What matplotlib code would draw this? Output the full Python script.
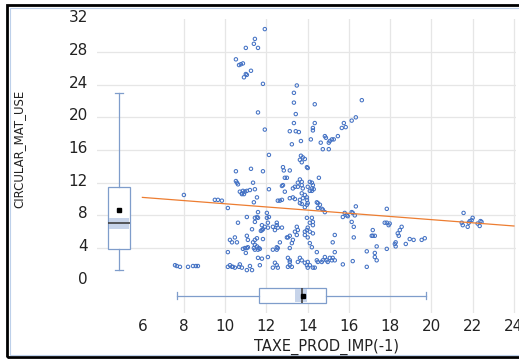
import matplotlib.pyplot as plt
from matplotlib.patches import Rectangle
from matplotlib.transforms import ScaledTranslation

obs = [
    (7.58, 1.9), (7.67, 1.8), (7.82, 1.7), (8.21, 1.7), (8.45, 1.8), (8.59, 1.8), (8.69, 1.8),
    (8.01, 10.5), (9.51, 9.9), (9.66, 9.9), (9.85, 9.8), (10.14, 8.9),
    # top cluster
    (11.93, 30.8), (11.45, 29.6), (11.40, 29.0), (11.01, 28.5), (11.60, 28.5), (10.53, 27.1),
    (10.77, 26.5), (10.87, 26.6), (10.68, 26.4), (11.26, 25.7), (11.06, 25.2), (10.92, 24.9),
    (11.01, 25.3), (11.84, 24.1), (11.60, 20.6), (11.93, 18.5),
    (13.48, 23.9), (13.34, 23.0), (13.34, 21.8), (14.35, 21.6), (13.43, 20.4), (13.34, 19.3),
    (13.14, 18.3), (13.43, 18.3), (13.58, 18.2), (13.24, 16.7), (13.68, 17.1), (14.16, 17.3),
    (14.26, 18.7), (14.26, 18.4), (14.35, 19.3), (14.84, 17.7), (14.89, 17.5), (14.64, 16.9),
    (15.08, 17.1), (15.18, 17.3), (15.27, 17.3), (15.03, 16.9), (15.47, 17.7), (14.74, 16.1),
    (15.03, 16.1), (15.76, 19.3), (15.85, 18.8), (15.66, 18.7), (16.63, 22.1), (16.34, 20.0),
    (16.14, 19.6),
    (12.13, 15.4), (13.68, 15.3), (13.77, 15.1), (13.63, 14.8), (13.72, 14.5), (13.87, 14.9),
    (13.97, 13.9), (14.01, 13.8), (12.81, 13.9), (12.85, 13.5), (13.14, 13.5), (14.55, 12.6),
    (11.84, 13.4), (10.53, 13.4), (11.26, 13.7), (12.90, 12.6), (13.00, 12.6),
    # 9 - 12.5
    (10.53, 12.2), (10.58, 12.0), (10.63, 11.8), (11.36, 12.0), (10.72, 10.9), (10.82, 10.7),
    (10.87, 11.0), (10.97, 10.9), (11.06, 11.0), (11.21, 11.1), (10.82, 10.6), (10.92, 10.6),
    (11.45, 11.2), (12.13, 11.2), (11.55, 10.2), (11.40, 9.6), (12.56, 9.8), (12.81, 11.7),
    (12.76, 11.6), (13.63, 12.4), (13.72, 12.1), (13.53, 12.0), (13.72, 11.7), (13.39, 11.5),
    (13.53, 11.5), (13.29, 11.3), (13.77, 11.3), (14.11, 12.1), (14.21, 12.0), (14.26, 11.7),
    (14.01, 11.5), (14.21, 11.3), (14.30, 11.2), (14.21, 11.0), (14.11, 11.0), (12.90, 10.9),
    (13.72, 10.7), (13.87, 10.5), (13.97, 10.2), (13.77, 10.1), (13.63, 9.9), (13.97, 9.9),
    (13.39, 10.0), (13.29, 10.2), (13.14, 10.1), (12.66, 9.8), (12.76, 9.9),
    (14.45, 9.6), (14.50, 9.5), (14.60, 9.3), (14.50, 8.9), (14.69, 8.8), (14.74, 8.7),
    (14.84, 8.4), (14.01, 9.5), (13.97, 9.3), (13.87, 9.0), (13.63, 9.5), (13.72, 9.4),
    # right part
    (15.71, 7.8), (16.34, 9.1), (16.14, 8.4), (16.19, 8.3), (16.29, 8.0), (15.80, 8.3),
    (15.90, 8.0), (15.95, 7.9), (17.84, 8.8), (16.14, 7.2), (16.24, 6.6), (17.74, 7.1),
    (17.84, 7.1), (17.98, 7.0), (17.93, 6.8), (18.56, 6.6), (18.47, 6.2), (18.37, 5.8),
    (18.42, 5.5), (17.16, 6.2), (17.11, 5.5), (17.16, 5.5), (17.26, 5.5), (16.24, 5.3),
    (18.27, 4.7), (18.23, 4.5), (18.27, 4.2), (18.76, 4.5), (18.95, 5.1), (19.14, 5.0),
    (19.53, 5.0), (19.68, 5.2), (17.35, 4.2), (16.87, 3.6), (17.84, 3.9), (17.26, 3.4),
    (17.26, 2.9), (17.35, 2.5), (16.19, 2.4), (15.71, 2.0), (16.87, 1.7),
    (21.56, 8.3), (21.47, 7.1), (21.52, 6.8), (21.76, 6.6), (21.86, 7.3), (21.95, 7.4),
    (21.81, 7.1), (22.00, 7.7), (22.24, 7.0), (22.34, 6.7), (22.38, 7.3), (22.43, 7.2),
    # lower left block
    (11.60, 8.4), (12.03, 8.3), (11.55, 7.8), (11.45, 7.7), (11.60, 7.7), (11.06, 7.8),
    (12.03, 7.7), (12.13, 7.8), (10.63, 7.1), (11.45, 7.2), (12.08, 7.1), (11.79, 6.8),
    (11.93, 6.6), (11.84, 6.3), (12.08, 6.5), (12.32, 6.6), (12.51, 6.8), (12.56, 6.5),
    (12.42, 6.2), (11.31, 6.3), (11.79, 6.2), (11.74, 6.1), (11.06, 5.5), (10.48, 5.3),
    (10.24, 5.0), (10.34, 4.7), (10.58, 4.7), (11.55, 5.2), (11.45, 5.0), (11.36, 4.7),
    (11.11, 5.0), (11.84, 5.1), (10.14, 3.5), (11.11, 4.1), (11.06, 4.0), (10.97, 4.0),
    (10.87, 3.9), (11.45, 4.4), (11.55, 4.2), (11.64, 4.0), (11.40, 4.0), (11.45, 3.8),
    (11.60, 3.8), (11.69, 3.9), (12.32, 3.8), (12.51, 4.1), (11.01, 3.4), (11.60, 2.8),
    (12.08, 2.9), (11.79, 2.7), (10.24, 1.9), (10.34, 1.7), (10.14, 1.7), (10.38, 1.7),
    (10.72, 2.0), (10.68, 1.7), (10.82, 1.6), (10.48, 1.6), (11.21, 1.8), (11.69, 1.9),
    (11.06, 1.3), (11.31, 1.3), (12.42, 2.2), (12.51, 1.9), (12.56, 1.6), (12.32, 1.6),
    # lower middle block
    (13.97, 7.7), (14.21, 7.7), (14.26, 7.2), (14.11, 7.1), (14.26, 6.8), (14.01, 6.5),
    (13.97, 6.2), (13.87, 6.0), (14.11, 6.0), (14.26, 5.8), (13.87, 5.6), (14.01, 5.3),
    (12.51, 7.1), (12.76, 6.5), (13.48, 6.6), (13.53, 6.2), (13.39, 6.0), (13.48, 5.6),
    (13.05, 5.3), (13.14, 5.5), (13.00, 5.3), (13.29, 5.0), (13.24, 4.6), (13.14, 4.0),
    (12.66, 4.7), (12.56, 4.0), (12.51, 3.8), (15.32, 5.6), (15.22, 4.7), (15.32, 3.5),
    (14.45, 3.5), (14.11, 4.6), (14.21, 4.1),
    (13.14, 2.3), (13.05, 2.8), (13.14, 2.5), (13.14, 1.9), (13.24, 1.7), (13.05, 1.7),
    (13.53, 2.3), (13.63, 2.8), (13.72, 2.5), (13.87, 2.2), (13.97, 1.9), (14.01, 2.3),
    (14.11, 1.9), (14.01, 1.6), (14.35, 1.6), (14.45, 2.5), (14.50, 2.3), (14.69, 2.3),
    (14.74, 2.5), (14.84, 2.9), (14.93, 2.5), (14.98, 2.3), (15.08, 2.8), (15.18, 2.5),
    (15.22, 2.8), (15.32, 2.5), (14.26, 1.6),
]
tax_prod_imp = [p[0] for p in obs]
circ_mat_use = [p[1] for p in obs]

# linear trend line end points
trend_x = [6, 24]
trend_y = [10.2, 6.7]

# marginal box plot summaries
box_y = dict(whislo=1.3, q1=3.9, med=7.1, q3=11.5, whishi=23.0, mean=8.7)
box_y_ci = (6.3, 7.7)
box_x = dict(whislo=7.67, q1=11.64, med=13.72, q3=14.89, whishi=19.73, mean=13.77)
box_x_ci = (13.39, 13.97)

x_ticks = [6, 8, 10, 12, 14, 16, 18, 20, 22, 24]
y_ticks = [0, 4, 8, 12, 16, 20, 24, 28, 32]

blue = "#4472C4"
box_col = "#7F9DCB"
shade = "#C7D4EA"
orange = "#ED7D31"

W, H = 519, 359
fig = plt.figure(figsize=(W / 100, H / 100), dpi=100)
ax = fig.add_axes([97 / W, (H - 313) / H, (516 - 97) / W, (313 - 19.3) / H])
ax.set_xlim(3.8, 24.1)
ax.set_ylim(-3.95, 32)
for s in ax.spines.values():
    s.set_visible(False)

for gx in x_ticks[1:]:
    ax.axvline(gx, color="#E6E6E6", lw=0.9, zorder=0)
for gy in y_ticks[1:-1]:
    ax.axhline(gy, color="#E6E6E6", lw=0.9, zorder=0)

ax.scatter(tax_prod_imp, circ_mat_use, s=6, facecolors="none",
           edgecolors=blue, linewidths=0.75, zorder=3)
ax.plot(trend_x, trend_y, color=orange, lw=0.9, zorder=4)

bp_kw = dict(showmeans=True, patch_artist=True, showfliers=False,
             boxprops=dict(facecolor="white", edgecolor=box_col, lw=0.9),
             whiskerprops=dict(color=box_col, lw=0.9),
             capprops=dict(color=box_col, lw=0.9),
             medianprops=dict(color="#404040", lw=1.2, zorder=3),
             meanprops=dict(marker="s", markersize=2.2, markerfacecolor="black",
                            markeredgecolor="black", zorder=3.5))

vpos, vw = 4.87, 1.06
ax.bxp([box_y], positions=[vpos], widths=vw, capwidths=0.4, **bp_kw)
ax.fill_between([vpos - vw / 2 + 0.03, vpos + vw / 2 - 0.03], box_y_ci[0], box_y_ci[1],
                color=shade, lw=0, zorder=2.2)

hpos, hw = -1.81, 1.84
ax.bxp([box_x], positions=[hpos], widths=hw, capwidths=0.9,
       orientation="horizontal", **bp_kw)
ax.fill_betweenx([hpos - hw / 2 + 0.1, hpos + hw / 2 - 0.1], box_x_ci[0], box_x_ci[1],
                 color=shade, lw=0, zorder=2.2)

ax.set_xticks(x_ticks)
ax.set_yticks(y_ticks)
ax.set_xticklabels([str(v) for v in x_ticks])
ax.set_yticklabels([str(v) for v in y_ticks])
ax.tick_params(length=0, labelsize=11, labelcolor="#222222")
ax.tick_params(axis="x", pad=4.5)
ax.tick_params(axis="y", pad=6.5)
up = ScaledTranslation(0, 3 / 100, fig.dpi_scale_trans)
for lbl in ax.get_yticklabels():
    lbl.set_transform(lbl.get_transform() + up)

fig.text(326 / W, 1 - 347 / H, "TAXE_PROD_IMP(-1)", ha="center", va="center",
         fontsize=10.5, color="#222222")
fig.text(19 / W, 1 - 149 / H, "CIRCULAR_MAT_USE", ha="center", va="center",
         rotation=90, fontsize=8.5, color="#222222",
         family=["Liberation Sans Narrow", "DejaVu Sans"])

# outer frame
fig.patches.append(Rectangle((7 / W, 2 / H), 1.0, 352 / H, transform=fig.transFigure,
                             fill=False, ec="black", lw=2.0))
fig.patches.append(Rectangle((9.5 / W, 4.5 / H), 1.0, 347 / H, transform=fig.transFigure,
                             fill=False, ec="#BDD0EA", lw=0.8))

fig.savefig("out.png", dpi=100)
